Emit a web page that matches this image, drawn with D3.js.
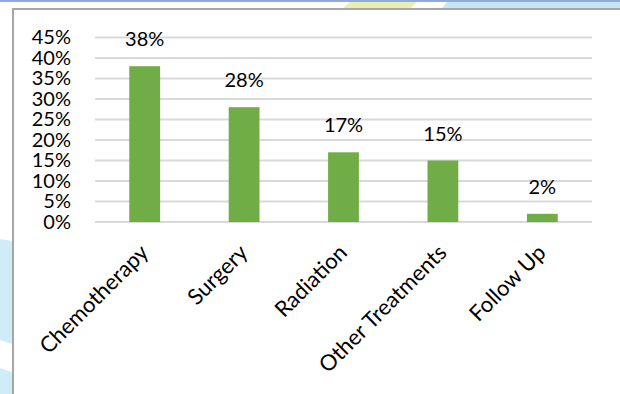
<!DOCTYPE html>
<html>
<head>
<meta charset="utf-8">
<script src="https://cdn.jsdelivr.net/npm/d3@7"></script>
<style>
  html, body { margin: 0; padding: 0; background: #ffffff; }
  svg { display: block; }
  text { font-family: Lato, "Open Sans", sans-serif; fill: #000000; }
</style>
</head>
<body>
<svg id="chart" width="620" height="394"></svg>
<script>
// Share of patients by treatment type
const categories = ["Chemotherapy", "Surgery", "Radiation", "Other Treatments", "Follow Up"];
const shares = [38, 28, 17, 15, 2];
const yTicks = [0, 5, 10, 15, 20, 25, 30, 35, 40, 45];

const W = 620, H = 394;
const svg = d3.select("#chart");

// page decoration behind the chart frame
const deco = svg.append("g");
deco.append("rect").attr("x", 0).attr("y", 0).attr("width", W).attr("height", H).attr("fill", "#ffffff");
deco.append("rect").attr("x", 0).attr("y", 0).attr("width", W).attr("height", 2).attr("fill", "#8ea9db");
deco.append("polygon").attr("points", "350,2 417,2 411,8 343,8").attr("fill", "#e9eeb3");
deco.append("polygon").attr("points", "447,2 620,2 620,8 442,8").attr("fill", "#c4e7f1");
deco.append("polygon").attr("points", "0,239 12,241 12,344 0,340").attr("fill", "#cfedf6");
deco.append("polygon").attr("points", "0,368 12,372 12,394 0,394").attr("fill", "#cfedf6");

// chart frame
svg.append("path")
  .attr("d", `M13,${H} V9 H${W}`)
  .attr("fill", "none")
  .attr("stroke", "#a6a6a6")
  .attr("stroke-width", 2);

const plot = { left: 95, right: 592, top: 37.5, bottom: 222 };

const x = d3.scaleBand()
  .domain(categories)
  .range([plot.left, plot.right])
  .paddingInner(0.69)
  .paddingOuter(0.345);

const y = d3.scaleLinear()
  .domain([0, 45])
  .range([plot.bottom, plot.top]);

// gridlines
svg.append("g")
  .selectAll("line")
  .data(yTicks)
  .join("line")
  .attr("x1", plot.left)
  .attr("x2", plot.right)
  .attr("y1", d => y(d))
  .attr("y2", d => y(d))
  .attr("stroke", "#d9d9d9")
  .attr("stroke-width", 2);

// y axis labels
const yAxis = d3.axisLeft(y)
  .tickValues(yTicks)
  .tickFormat(d => d + "%")
  .tickSize(0)
  .tickPadding(24);
const yg = svg.append("g")
  .attr("transform", `translate(${plot.left},0)`)
  .call(yAxis);
yg.select(".domain").remove();
yg.selectAll("text")
  .attr("font-size", 20)
  .attr("font-family", "Lato, sans-serif")
  .attr("fill", "#000");

// bars
svg.append("g")
  .selectAll("rect")
  .data(shares)
  .join("rect")
  .attr("x", (d, i) => x(categories[i]))
  .attr("y", d => y(d))
  .attr("width", x.bandwidth())
  .attr("height", d => y(0) - y(d))
  .attr("fill", "#70ad47");

// value labels
svg.append("g")
  .selectAll("text")
  .data(shares)
  .join("text")
  .attr("x", (d, i) => x(categories[i]) + x.bandwidth() / 2)
  .attr("y", d => y(d) - 20)
  .attr("text-anchor", "middle")
  .attr("font-size", 20)
  .text(d => d + "%");

// category labels, slanted
const xAxis = d3.axisBottom(x).tickSize(0).tickPadding(0);
const xg = svg.append("g")
  .attr("transform", `translate(0,${plot.bottom})`)
  .call(xAxis);
xg.select(".domain").remove();
xg.selectAll("text")
  .attr("font-size", 22)
  .attr("font-family", "Lato, sans-serif")
  .attr("fill", "#000")
  .attr("text-anchor", "end")
  .attr("dy", null)
  .attr("y", 0)
  .attr("transform", "translate(5,32) rotate(-45)");
</script>
</body>
</html>
